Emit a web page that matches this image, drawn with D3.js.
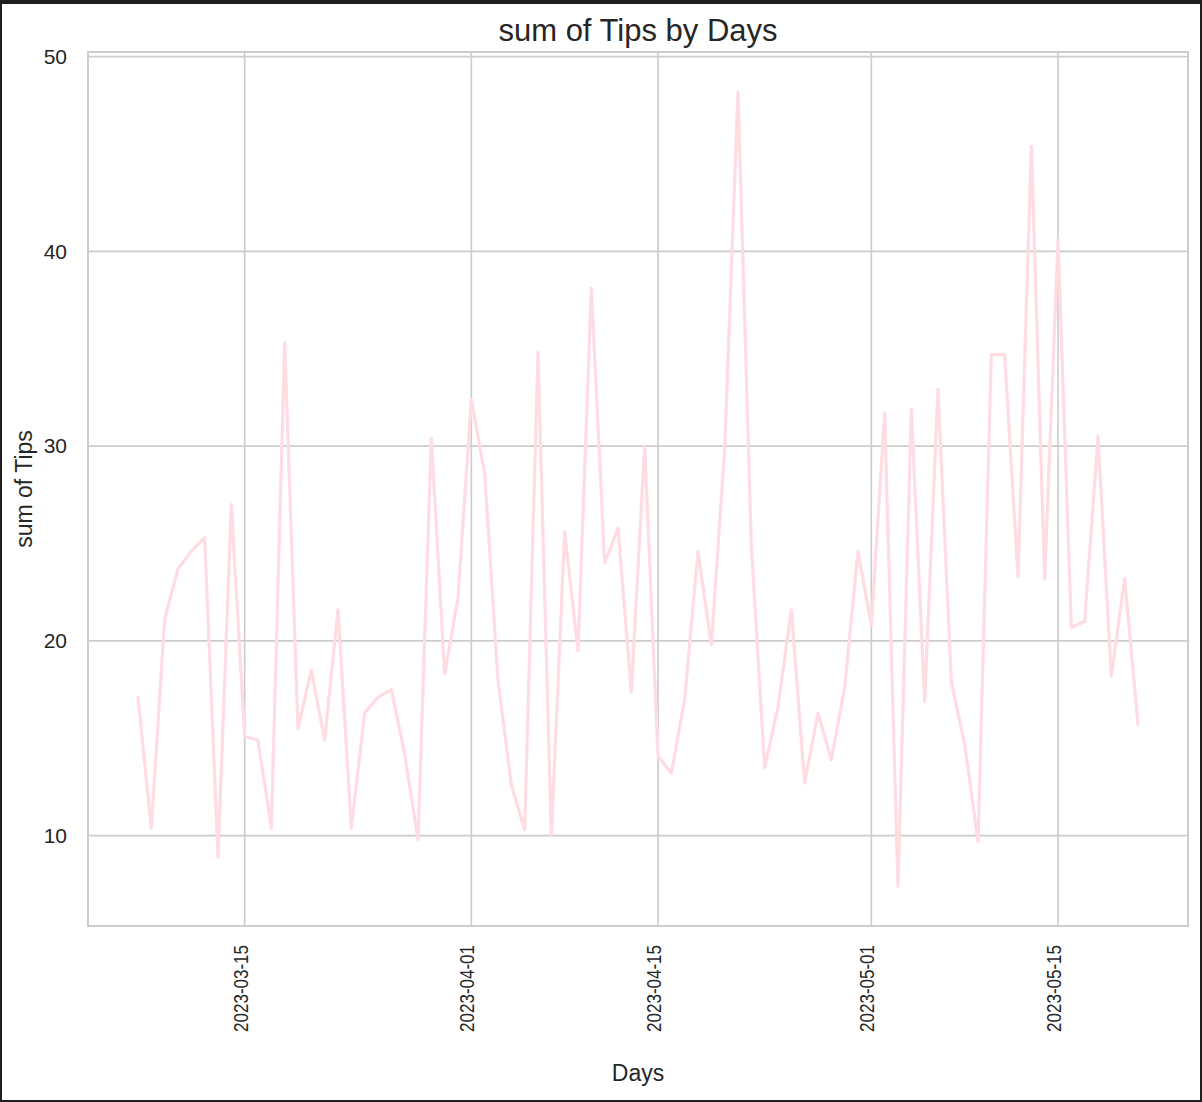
<!DOCTYPE html>
<html>
<head>
<meta charset="utf-8">
<script src="https://cdn.jsdelivr.net/npm/d3@7"></script>
<style>
  html, body { margin: 0; padding: 0; background: #1e1e1e; }
  svg { display: block; }
  text { font-family: "Liberation Sans", Arial, sans-serif; fill: #262626; }
</style>
</head>
<body>
<svg id="chart" width="1202" height="1102"></svg>
<script>
const days = [
  "2023-03-07","2023-03-08","2023-03-09","2023-03-10","2023-03-11","2023-03-12","2023-03-13","2023-03-14",
  "2023-03-15","2023-03-16","2023-03-17","2023-03-18","2023-03-19","2023-03-20","2023-03-21","2023-03-22",
  "2023-03-23","2023-03-24","2023-03-25","2023-03-26","2023-03-27","2023-03-28","2023-03-29","2023-03-30",
  "2023-03-31","2023-04-01","2023-04-02","2023-04-03","2023-04-04","2023-04-05","2023-04-06","2023-04-07",
  "2023-04-08","2023-04-09","2023-04-10","2023-04-11","2023-04-12","2023-04-13","2023-04-14","2023-04-15",
  "2023-04-16","2023-04-17","2023-04-18","2023-04-19","2023-04-20","2023-04-21","2023-04-22","2023-04-23",
  "2023-04-24","2023-04-25","2023-04-26","2023-04-27","2023-04-28","2023-04-29","2023-04-30","2023-05-01",
  "2023-05-02","2023-05-03","2023-05-04","2023-05-05","2023-05-06","2023-05-07","2023-05-08","2023-05-09",
  "2023-05-10","2023-05-11","2023-05-12","2023-05-13","2023-05-14","2023-05-15","2023-05-16","2023-05-17",
  "2023-05-18","2023-05-19","2023-05-20","2023-05-21"
];
const tipSums = [
  17.1, 10.4, 21.1, 23.7, 24.6, 25.3, 8.9, 27.0,
  15.1, 14.9, 10.4, 35.3, 15.5, 18.5, 14.9, 21.6,
  10.4, 16.3, 17.1, 17.5, 14.2, 9.8, 30.4, 18.3,
  22.2, 32.4, 28.6, 18.0, 12.6, 10.3, 34.8, 10.0,
  25.6, 19.5, 38.1, 24.0, 25.8, 17.4, 30.0, 14.1,
  13.2, 17.0, 24.6, 19.8, 29.8, 48.2, 24.9, 13.5,
  16.6, 21.6, 12.7, 16.3, 13.9, 17.6, 24.6, 20.8,
  31.7, 7.4, 31.9, 16.9, 32.9, 17.9, 14.7, 9.7,
  34.7, 34.7, 23.3, 45.4, 23.2, 40.6, 20.7, 21.0,
  30.5, 18.2, 23.2, 15.7
];
const xTickLabels = ["2023-03-15","2023-04-01","2023-04-15","2023-05-01","2023-05-15"];
const yTickValues = [10, 20, 30, 40, 50];
const chartTitle = "sum of Tips by Days";
const xLabel = "Days";
const yLabel = "sum of Tips";

const parse = d3.utcParse("%Y-%m-%d");
const data = days.map((d, i) => ({ date: parse(d), value: tipSums[i] }));

const svg = d3.select("#chart");
// frame
svg.append("rect").attr("x", 2).attr("y", 4).attr("width", 1198).attr("height", 1096).attr("fill", "#ffffff");

const plot = { left: 88, right: 1188, top: 52, bottom: 926 };

const xMin = d3.min(data, d => d.date), xMax = d3.max(data, d => d.date);
const xPad = (xMax - xMin) * 0.05;
const x = d3.scaleUtc()
  .domain([new Date(+xMin - xPad), new Date(+xMax + xPad)])
  .range([plot.left, plot.right]);

const yMin = d3.min(tipSums), yMax = d3.max(tipSums);
const yPad = (yMax - yMin) * 0.05;
const y = d3.scaleLinear()
  .domain([yMin - yPad, yMax + yPad])
  .range([plot.bottom, plot.top]);

const xTicks = xTickLabels.map(parse);

// grid
const grid = svg.append("g");
grid.selectAll("line.h").data(yTickValues).join("line")
  .attr("x1", plot.left).attr("x2", plot.right)
  .attr("y1", d => y(d)).attr("y2", d => y(d))
  .attr("stroke", "#cccccc").attr("stroke-width", 1.6);
grid.selectAll("line.v").data(xTicks).join("line")
  .attr("x1", d => x(d)).attr("x2", d => x(d))
  .attr("y1", plot.top).attr("y2", plot.bottom)
  .attr("stroke", "#cccccc").attr("stroke-width", 1.6);

// axes (tick labels only)
const yAxis = d3.axisLeft(y).tickValues(yTickValues).tickSize(0).tickPadding(21).tickFormat(d3.format("d"));
const gy = svg.append("g").attr("transform", `translate(${plot.left},0)`).call(yAxis);
gy.select(".domain").remove();
gy.selectAll("text").style("font-size", "21px").style("font-family", "'Liberation Sans', Arial, sans-serif").attr("fill", "#262626");

const xAxis = d3.axisBottom(x).tickValues(xTicks).tickSize(0).tickFormat(d3.utcFormat("%Y-%m-%d"));
const gx = svg.append("g").attr("transform", `translate(0,${plot.bottom})`).call(xAxis);
gx.select(".domain").remove();
gx.selectAll("text")
  .style("font-size", "17px").style("font-family", "'Liberation Sans', Arial, sans-serif").attr("fill", "#262626")
  .attr("transform", "rotate(-90) scale(1,1.22)")
  .attr("text-anchor", "end")
  .attr("x", -19).attr("y", 0).attr("dy", "0.12em");

// spines
svg.append("rect")
  .attr("x", plot.left).attr("y", plot.top)
  .attr("width", plot.right - plot.left).attr("height", plot.bottom - plot.top)
  .attr("fill", "none").attr("stroke", "#cccccc").attr("stroke-width", 2);

// line
const line = d3.line().x(d => x(d.date)).y(d => y(d.value));
svg.append("path").datum(data)
  .attr("d", line)
  .attr("fill", "none")
  .attr("stroke", "#ffdce2")
  .attr("stroke-width", 3.2)
  .attr("stroke-linejoin", "round")
  .attr("stroke-linecap", "round");

// labels
svg.append("text").attr("x", (plot.left + plot.right) / 2).attr("y", 41)
  .attr("text-anchor", "middle").style("font-size", "31px").text(chartTitle);
svg.append("text").attr("x", (plot.left + plot.right) / 2).attr("y", 1081)
  .attr("text-anchor", "middle").style("font-size", "23px").text(xLabel);
svg.append("text").attr("transform", `translate(32,${(plot.top + plot.bottom) / 2}) rotate(-90)`)
  .attr("text-anchor", "middle").style("font-size", "23px").text(yLabel);
</script>
</body>
</html>
